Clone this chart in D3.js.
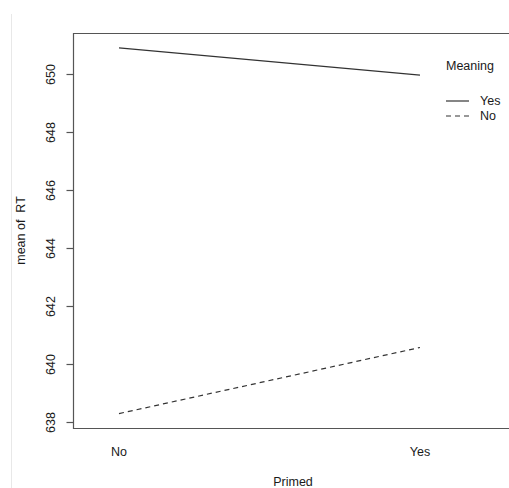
<!DOCTYPE html>
<html>
<head>
<meta charset="utf-8">
<script src="https://cdn.jsdelivr.net/npm/d3@7"></script>
<style>
  body { margin: 0; background: #fff; }
  svg text { font-family: "Liberation Sans", Arial, sans-serif; font-size: 12.5px; fill: #1a1a1a; white-space: pre; }
</style>
</head>
<body>
<div id="chart"></div>
<script>
// data
var primed = ["No", "Yes"];
var meaningYes = [650.90, 649.96];
var meaningNo = [638.29, 640.57];
var yTicks = [638, 640, 642, 644, 646, 648, 650];
var legendLabels = ["Yes", "No"];

var width = 509, height = 488;

// plot region (right side runs past the window)
var plot = { left: 73, top: 33, right: 513, bottom: 428 };

var svg = d3.select("#chart")
  .append("svg")
  .attr("width", width)
  .attr("height", height);

// faint frame line at the far left
svg.append("line")
  .attr("x1", 11.5).attr("x2", 11.5)
  .attr("y1", 14).attr("y2", height)
  .attr("stroke", "#e8e8e8")
  .attr("stroke-width", 1);

var x = d3.scalePoint()
  .domain(primed)
  .range([119, 420]);

var y = d3.scaleLinear()
  .domain([638, 650])
  .range([422, 74]);

// box: top and left, bottom axis line
svg.append("path")
  .attr("d", "M" + plot.right + "," + (plot.top + 0.5) +
             "H" + (plot.left + 0.5) +
             "V" + (plot.bottom + 0.5) +
             "H" + plot.right)
  .attr("fill", "none")
  .attr("stroke", "#555")
  .attr("stroke-width", 1.2);

// y axis (ticks + rotated labels)
var yAxis = d3.axisLeft(y)
  .tickValues(yTicks)
  .tickSize(7)
  .tickPadding(0)
  .tickFormat(d3.format("d"));

var gy = svg.append("g")
  .attr("transform", "translate(" + (plot.left + 0.5) + ",0)")
  .call(yAxis);
gy.select(".domain").remove();
gy.selectAll(".tick line").attr("stroke", "#555").attr("stroke-width", 1.2);
gy.selectAll(".tick text")
  .attr("x", null).attr("dy", null)
  .attr("transform", "translate(-19,0) rotate(-90)")
  .attr("text-anchor", "middle")
  .style("font-family", "Liberation Sans, Arial, sans-serif")
  .style("font-size", "12.5px")
  .attr("fill", "#1a1a1a");

// x labels (no tick marks)
svg.selectAll(".xlab")
  .data(primed)
  .enter()
  .append("text")
  .attr("class", "xlab")
  .attr("x", function(d) { return x(d); })
  .attr("y", 456)
  .attr("text-anchor", "middle")
  .text(function(d) { return d; });

// axis titles
svg.append("text")
  .attr("x", (plot.left + plot.right) / 2)
  .attr("y", 486)
  .attr("text-anchor", "middle")
  .text("Primed");

svg.append("text")
  .attr("transform", "translate(25," + ((plot.top + plot.bottom) / 2) + ") rotate(-90)")
  .attr("text-anchor", "middle")
  .text("mean of  RT");

// the two trace lines
var line = d3.line()
  .x(function(d, i) { return x(primed[i]); })
  .y(function(d) { return y(d); });

var series = [
  { name: "Yes", values: meaningYes, dash: null },
  { name: "No", values: meaningNo, dash: "5,4" }
];

svg.selectAll(".trace")
  .data(series)
  .enter()
  .append("path")
  .attr("class", "trace")
  .attr("d", function(d) { return line(d.values); })
  .attr("fill", "none")
  .attr("stroke", "#333")
  .attr("stroke-width", 1.2)
  .attr("stroke-dasharray", function(d) { return d.dash; });

// legend
svg.append("text")
  .attr("x", 446)
  .attr("y", 70)
  .text("Meaning");

var leg = svg.selectAll(".leg")
  .data(series)
  .enter()
  .append("g")
  .attr("class", "leg")
  .attr("transform", function(d, i) { return "translate(446," + (101 + i * 15) + ")"; });

leg.append("line")
  .attr("x1", 0).attr("x2", 23)
  .attr("y1", 0).attr("y2", 0)
  .attr("stroke", "#333")
  .attr("stroke-width", 1.2)
  .attr("stroke-dasharray", function(d) { return d.dash; });

leg.append("text")
  .attr("x", 34)
  .attr("y", 4)
  .text(function(d, i) { return legendLabels[i]; });
</script>
</body>
</html>
